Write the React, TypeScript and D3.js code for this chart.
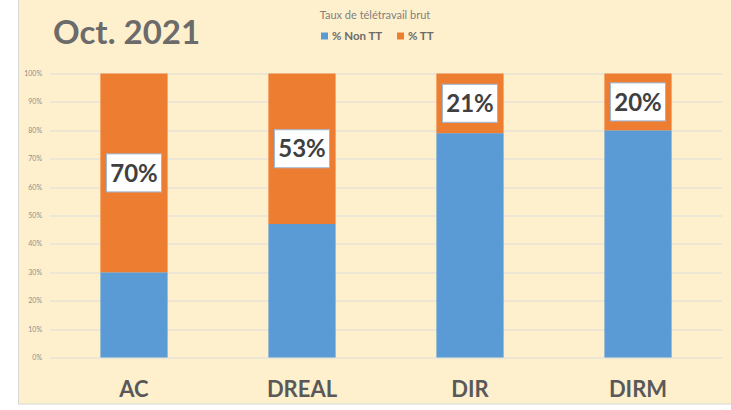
import React, { useEffect, useRef } from "react";
import * as d3 from "d3";

const categories = ["AC", "DREAL", "DIR", "DIRM"];
const nonTT = [30, 47, 79, 80];
const tt = [70, 53, 21, 20];
const yTicks = [0, 10, 20, 30, 40, 50, 60, 70, 80, 90, 100];
const seriesNames = ["% Non TT", "% TT"];
const colors = ["#5B9BD5", "#ED7D31"];

const W = 731;
const H = 410;
const FONT = "Lato, 'Open Sans', sans-serif";

const App = () => {
  const ref = useRef<SVGSVGElement>(null);

  useEffect(() => {
    const svg = d3.select(ref.current);
    svg.selectAll("*").remove();

    // background panel
    svg
      .append("rect")
      .attr("x", 18.5)
      .attr("y", -1)
      .attr("width", W)
      .attr("height", 405)
      .attr("fill", "#FFF0CD")
      .attr("stroke", "#D6D6D6")
      .attr("stroke-width", 1);

    const margin = { top: 73.5, left: 50, right: 9, bottom: 52.5 };
    const width = W - margin.left - margin.right;
    const height = H - margin.top - margin.bottom;

    const x = d3.scaleBand().domain(categories).range([0, width]).paddingInner(0.6).paddingOuter(0.3);
    const y = d3.scaleLinear().domain([0, 100]).range([height, 0]);

    const g = svg.append("g").attr("transform", `translate(${margin.left},${margin.top})`);

    // gridlines
    g.append("g")
      .selectAll("line")
      .data(yTicks)
      .enter()
      .append("line")
      .attr("x1", 0)
      .attr("x2", width)
      .attr("y1", (d) => Math.round(y(d)) + 0.5)
      .attr("y2", (d) => Math.round(y(d)) + 0.5)
      .attr("stroke", "#DCDCDC")
      .attr("stroke-width", 1);

    // y labels
    g.append("g")
      .selectAll("text")
      .data(yTicks)
      .enter()
      .append("text")
      .attr("x", -8)
      .attr("y", (d) => y(d))
      .attr("dy", "0.35em")
      .attr("text-anchor", "end")
      .attr("font-family", FONT)
      .attr("font-size", 7)
      .attr("fill", "#8C8C8C")
      .text((d) => `${d}%`);

    const stacked = categories.map((c, i) => ({ cat: c, a: nonTT[i], b: tt[i] }));

    // non TT bars
    g.append("g")
      .selectAll("rect")
      .data(stacked)
      .enter()
      .append("rect")
      .attr("x", (d) => x(d.cat)!)
      .attr("width", x.bandwidth())
      .attr("y", (d) => y(d.a))
      .attr("height", (d) => y(0) - y(d.a))
      .attr("fill", colors[0]);

    // TT bars
    g.append("g")
      .selectAll("rect")
      .data(stacked)
      .enter()
      .append("rect")
      .attr("x", (d) => x(d.cat)!)
      .attr("width", x.bandwidth())
      .attr("y", (d) => y(d.a + d.b))
      .attr("height", (d) => y(d.a) - y(d.a + d.b))
      .attr("fill", colors[1]);

    // data labels
    const lbl = g
      .append("g")
      .selectAll("g")
      .data(stacked)
      .enter()
      .append("g")
      .attr("transform", (d) => `translate(${x(d.cat)! + x.bandwidth() / 2},${(y(d.a) + y(d.a + d.b)) / 2})`);
    lbl
      .append("rect")
      .attr("x", -27.5)
      .attr("y", -19)
      .attr("width", 55)
      .attr("height", 38)
      .attr("fill", "#FFFFFF")
      .attr("stroke", "#9DB9DA")
      .attr("stroke-width", 1);
    lbl
      .append("text")
      .attr("text-anchor", "middle")
      .attr("dy", "0.36em")
      .attr("font-family", FONT)
      .attr("font-weight", "bold")
      .attr("font-size", 24)
      .attr("fill", "#404040")
      .text((d) => `${d.b}%`);

    // category labels
    g.append("g")
      .selectAll("text")
      .data(categories)
      .enter()
      .append("text")
      .attr("x", (d) => x(d)! + x.bandwidth() / 2)
      .attr("y", height + 32)
      .attr("dy", "0.35em")
      .attr("text-anchor", "middle")
      .attr("font-family", FONT)
      .attr("font-weight", "bold")
      .attr("font-size", 22)
      .attr("fill", "#595959")
      .text((d) => d);

    // title
    svg
      .append("text")
      .attr("x", 53)
      .attr("y", 44)
      .attr("font-family", FONT)
      .attr("font-weight", "bold")
      .attr("font-size", 33)
      .attr("fill", "#6B6B6B")
      .text("Oct. 2021");

    svg
      .append("text")
      .attr("x", 375)
      .attr("y", 15)
      .attr("dy", "0.35em")
      .attr("text-anchor", "middle")
      .attr("font-family", FONT)
      .attr("font-size", 11)
      .attr("fill", "#7F7F7F")
      .text("Taux de télétravail brut");

    // legend
    const legendX = [321, 397];
    const leg = svg
      .append("g")
      .selectAll("g")
      .data(seriesNames)
      .enter()
      .append("g")
      .attr("transform", (d, i) => `translate(${legendX[i]},36)`);
    leg
      .append("rect")
      .attr("x", 0)
      .attr("y", -3.5)
      .attr("width", 7)
      .attr("height", 7)
      .attr("fill", (d, i) => colors[i]);
    leg
      .append("text")
      .attr("x", 11)
      .attr("dy", "0.35em")
      .attr("font-family", FONT)
      .attr("font-weight", "bold")
      .attr("font-size", 11.5)
      .attr("fill", "#6B6B6B")
      .text((d) => d);
  }, []);

  return (
    <svg
      ref={ref}
      width={W}
      height={H}
      style={{ position: "absolute", left: 0, top: 0, background: "#FFFFFF" }}
    />
  );
};

export default App;
